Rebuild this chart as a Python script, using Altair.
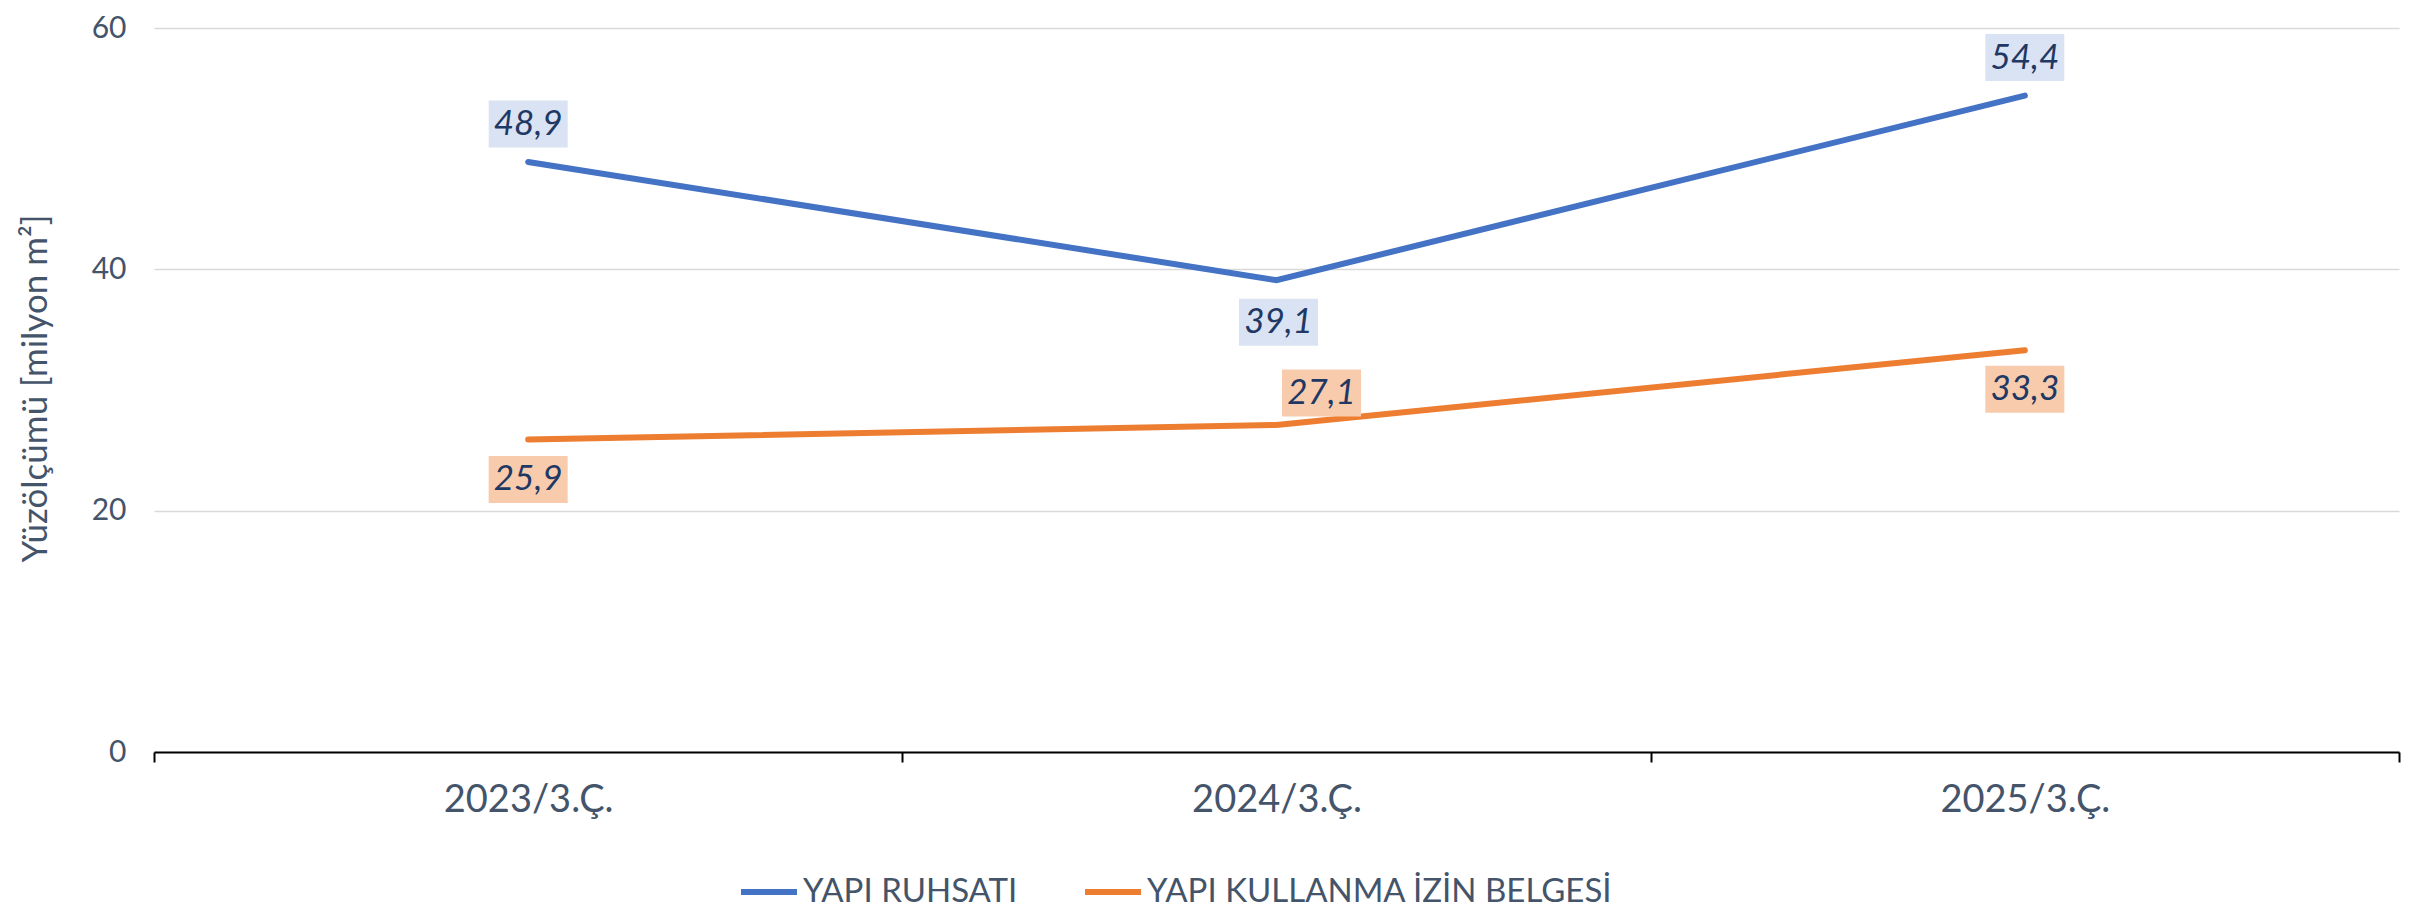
import altair as alt
import pandas as pd

periods = ["2023/3.Ç.", "2024/3.Ç.", "2025/3.Ç."]
series_names = ["YAPI RUHSATI", "YAPI KULLANMA İZİN BELGESİ"]
ruhsat = [48.9, 39.1, 54.4]
iskan = [25.9, 27.1, 33.3]

rows = []
for p, v in zip(periods, ruhsat):
    rows.append({"period": p, "series": series_names[0], "value": v})
for p, v in zip(periods, iskan):
    rows.append({"period": p, "series": series_names[1], "value": v})
df = pd.DataFrame(rows)

colors = ["#4472C4", "#ED7D31"]
box_fill = {series_names[0]: "#DAE3F3", series_names[1]: "#F8CBAD"}
# label placement (dx, dy) in pixels relative to the data point
placement = {
    (series_names[0], periods[0]): (0, -38),
    (series_names[0], periods[1]): (2, 42),
    (series_names[0], periods[2]): (0, -38),
    (series_names[1], periods[0]): (0, 40),
    (series_names[1], periods[1]): (45, -32),
    (series_names[1], periods[2]): (0, 39),
}

FONT = "Lato"
AXIS_COLOR = "#44546A"

x_enc = alt.X(
    "period:N",
    sort=periods,
    bandPosition=0.5,
    scale=alt.Scale(type="band", paddingInner=0, paddingOuter=0),
    axis=alt.Axis(
        title=None,
        labelAngle=0,
        labelFontSize=38,
        labelFont=FONT,
        labelColor=AXIS_COLOR,
        labelPadding=19,
        domainColor="#000000",
        domainWidth=2,
        tickColor="#000000",
        tickWidth=2,
        tickSize=10,
        tickBand="extent",
        grid=False,
    ),
)
y_enc = alt.Y(
    "value:Q",
    scale=alt.Scale(domain=[0, 60], nice=False),
    axis=alt.Axis(
        values=[0, 20, 40, 60],
        title="Yüzölçümü [milyon m²]",
        titleFont=FONT,
        titleFontSize=35,
        titleFontWeight="normal",
        titleColor=AXIS_COLOR,
        titleX=-119,
        titleY=360,
        titleAngle=270,
        titleBaseline="middle",
        titleAlign="center",
        labelFontSize=30,
        labelFont=FONT,
        labelColor=AXIS_COLOR,
        labelPadding=28,
        domain=False,
        ticks=False,
        grid=True,
        gridColor="#D9D9D9",
        gridWidth=1.5,
    ),
)

base = alt.Chart(df)

lines = base.mark_line(strokeWidth=6, strokeCap="round", strokeJoin="miter").encode(
    x=x_enc,
    y=y_enc,
    color=alt.Color(
        "series:N",
        sort=series_names,
        scale=alt.Scale(domain=series_names, range=colors),
        legend=alt.Legend(
            title=None,
            orient="none",
            legendX=584,
            legendY=833,
            direction="horizontal",
            symbolType="stroke",
            symbolSize=3136,
            symbolStrokeWidth=6,
            labelFont=FONT,
            labelFontSize=33,
            labelColor=AXIS_COLOR,
            labelOffset=3,
            labelLimit=0,
            columnPadding=55,
        ),
    ),
)

layers = [lines]
BW, BH = 79, 47
for (s, p), (dx, dy) in placement.items():
    sub = base.transform_filter((alt.datum.series == s) & (alt.datum.period == p))
    box = sub.mark_bar(
        width=BW,
        xOffset=dx,
        x2Offset=dx,
        yOffset=dy - BH / 2,
        y2Offset=dy + BH / 2,
        color=box_fill[s],
    ).encode(x=alt.X("period:N", sort=periods, bandPosition=0.5), y="value:Q", y2="value:Q")
    txt = sub.transform_calculate(
        label="replace(format(datum.value, '.1f'), '.', ',')"
    ).mark_text(
        dx=dx,
        dy=dy,
        font=FONT,
        fontSize=35,
        fontStyle="italic",
        color="#1F3864",
        align="center",
        baseline="middle",
    ).encode(x=alt.X("period:N", sort=periods, bandPosition=0.5), y="value:Q", text="label:N")
    layers += [box, txt]

chart = (
    alt.layer(*layers)
    .properties(
        width=2245,
        height=724,
        autosize=alt.AutoSizeParams(type="none"),
        padding={"left": 146, "top": 20, "right": 10, "bottom": 158},
    )
    .configure_view(stroke=None)
)

chart.save("out.html", embed_options={"renderer": "svg", "actions": False})
